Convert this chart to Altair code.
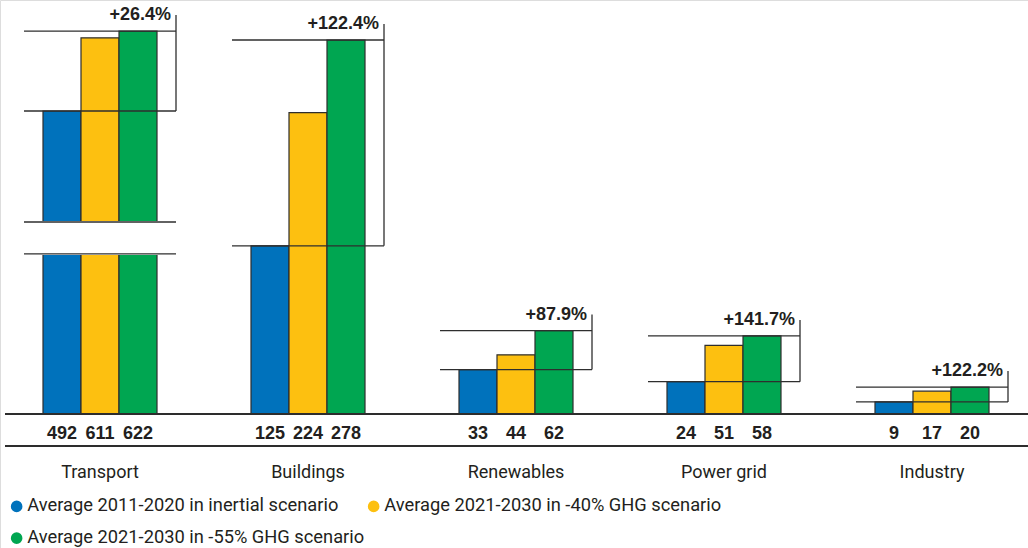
import altair as alt
import pandas as pd

# Investment needs by sector (values shown under each bar)
categories = ["Transport", "Buildings", "Renewables", "Power grid", "Industry"]
series = [
    "Average 2011-2020 in inertial scenario",
    "Average 2021-2030 in -40% GHG scenario",
    "Average 2021-2030 in -55% GHG scenario",
]
inertial = [492, 125, 33, 24, 9]
ghg40 = [611, 224, 44, 51, 17]
ghg55 = [622, 278, 62, 58, 20]
changes = ["+26.4%", "+122.4%", "+87.9%", "+141.7%", "+122.2%"]
colors = ["#0072BC", "#FDC010", "#00A651"]

INK = "#231F20"
LINE = "#2E2E2E"
TEXT_FONT = "Roboto"
NUM_FONT = "Liberation Sans"

# Transport runs on a broken axis: values between CUT_LO and CUT_HI are cut out,
# and the part above the cut is compressed so the tall bars fit.
CUT_LO, CUT_HI = 119, 311.5
GAP_TOP = 142.7
UPPER_SLOPE = 0.4572


def broken(field):
    """Vega expression placing a value of `field` on the shared y scale."""
    v = f"datum.{field}"
    return (
        f"datum.cat == 'Transport' ? "
        f"({v} <= {CUT_LO} ? {v} : "
        f"{v} <= {CUT_HI} ? {CUT_LO} + ({v} - {CUT_LO}) * {(GAP_TOP - CUT_LO) / (CUT_HI - CUT_LO)} : "
        f"{GAP_TOP} + ({v} - {CUT_HI}) * {UPPER_SLOPE}) : {v}"
    )


long_rows = []
for i, cat in enumerate(categories):
    for s, vals in zip(series, [inertial, ghg40, ghg55]):
        long_rows.append({"cat": cat, "series": s, "value": vals[i]})
bars_df = pd.DataFrame(long_rows)

level_rows = []
for i, cat in enumerate(categories):
    level_rows.append({"cat": cat, "level": inertial[i]})
    level_rows.append({"cat": cat, "level": ghg55[i]})
level_rows.append({"cat": "Transport", "level": CUT_LO})
level_rows.append({"cat": "Transport", "level": CUT_HI})
levels_df = pd.DataFrame(level_rows)

span_df = pd.DataFrame({"cat": categories, "base": inertial, "top": ghg55, "change": changes})
cut_df = pd.DataFrame({"cat": ["Transport"], "lo": [CUT_LO], "hi": [CUT_HI]})

x_enc = alt.X(
    "cat:N",
    sort=categories,
    scale=alt.Scale(domain=categories, range=[43, 989], paddingInner=0.4519, paddingOuter=0),
    axis=None,
)
xoff_enc = alt.XOffset("series:N", sort=series, scale=alt.Scale(domain=series))
y_scale = alt.Scale(domain=[0, 278], range=[414, 40], nice=False, zero=True)

legend = alt.Legend(
    title=None,
    orient="none",
    direction="horizontal",
    legendX=7.5,
    legendY=497,
    columns=2,
    padding=0,
    symbolType="circle",
    symbolSize=135,
    symbolStrokeWidth=0,
    symbolOpacity=1,
    labelFont=TEXT_FONT,
    labelFontSize=18.3,
    labelColor=INK,
    labelOffset=1.5,
    labelLimit=0,
    rowPadding=13,
    columnPadding=0,
)

bars = (
    alt.Chart(bars_df)
    .transform_calculate(y=broken("value"))
    .mark_bar(stroke=LINE, strokeWidth=1.2)
    .encode(
        x=x_enc,
        xOffset=xoff_enc,
        y=alt.Y("y:Q", scale=y_scale, axis=None),
        color=alt.Color("series:N", sort=series,
                        scale=alt.Scale(domain=series, range=colors), legend=legend),
    )
)

# white band hiding the cut part of the Transport bars
mask = (
    alt.Chart(cut_df)
    .transform_calculate(y=broken("lo"), y2=broken("hi"))
    .mark_rect(color="white", stroke="white", strokeWidth=2)
    .encode(x=x_enc, y=alt.Y("y:Q", scale=y_scale, axis=None), y2="y2:Q")
)

levels = (
    alt.Chart(levels_df)
    .transform_calculate(y=broken("level"))
    .mark_rule(color=LINE, strokeWidth=1.3, xOffset=-76, x2Offset=76)
    .encode(x=x_enc, x2=alt.X2("cat"), y=alt.Y("y:Q", scale=y_scale, axis=None))
)

connector = (
    alt.Chart(span_df)
    .transform_calculate(y=broken("base"), y2=broken("top"))
    .mark_rule(color=LINE, strokeWidth=1.3, xOffset=76, y2Offset=-16)
    .encode(x=x_enc, y=alt.Y("y:Q", scale=y_scale, axis=None), y2="y2:Q")
)

change_labels = (
    alt.Chart(span_df)
    .transform_calculate(y=broken("top"))
    .mark_text(align="right", baseline="alphabetic", dx=71, dy=-11,
               font=NUM_FONT, fontSize=18, fontWeight="bold", color=INK)
    .encode(x=x_enc, y=alt.Y("y:Q", scale=y_scale, axis=None), text="change:N")
)

# bottom strip: baseline, value labels, rule, sector names
baseline = alt.Chart(span_df).mark_rule(color=LINE, strokeWidth=1.3).encode(
    x=alt.value(5), x2=alt.value(1028), y=alt.value(414)
)
underline = alt.Chart(span_df).mark_rule(color=LINE, strokeWidth=1.3).encode(
    x=alt.value(5), x2=alt.value(1028), y=alt.value(446)
)
value_labels = (
    alt.Chart(bars_df)
    .mark_text(font=NUM_FONT, fontSize=18, fontWeight="bold", color=INK, baseline="middle")
    .encode(x=x_enc, xOffset=xoff_enc, y=alt.value(434), text="value:Q")
)
cat_labels = (
    alt.Chart(span_df)
    .mark_text(font=TEXT_FONT, fontSize=18, color=INK, baseline="middle")
    .encode(x=x_enc, y=alt.value(473), text="cat:N")
)

chart = (
    alt.layer(bars, mask, levels, connector, change_labels,
              baseline, underline, value_labels, cat_labels)
    .properties(width=1028, height=548, padding=0, autosize=alt.AutoSizeParams(type="none"))
    .configure_view(stroke=None)
    .configure(background="white")
)

chart.save("out.html", embed_options={"renderer": "svg", "actions": False})
